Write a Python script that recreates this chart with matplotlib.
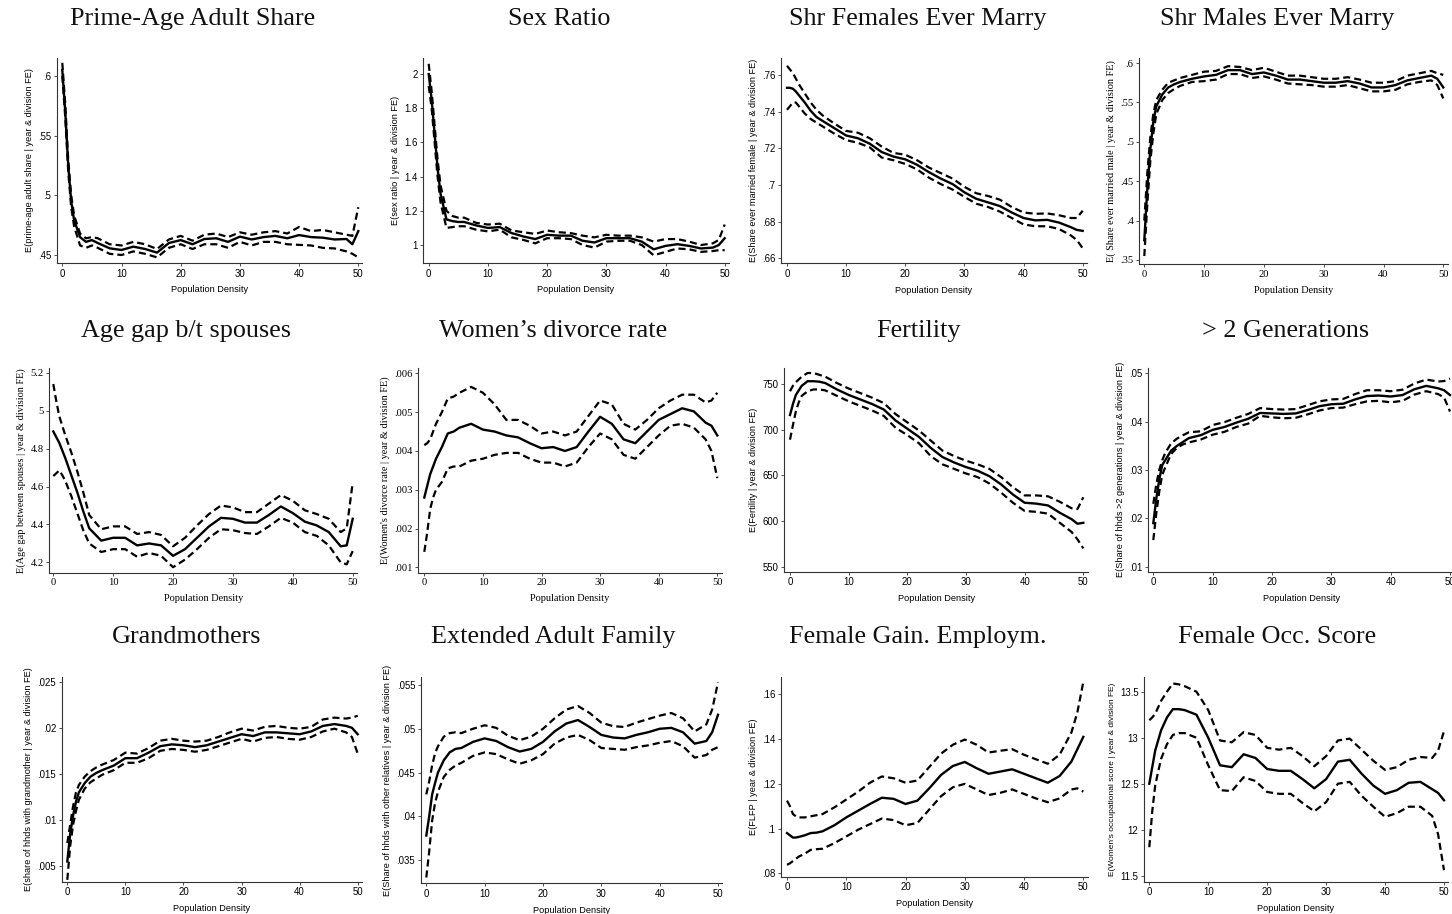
import matplotlib
matplotlib.use("Agg")
import matplotlib.pyplot as plt

W, H = 1452, 914

# ---------------- data ----------------
x = [0, 0.5, 1, 1.5, 2, 3, 4, 5, 6, 8, 10, 12, 14, 16, 18, 20, 22, 24, 26, 28,
     30, 32, 34, 36, 38, 40, 42, 44, 46, 48, 49, 50]
xticks = [0, 10, 20, 30, 40, 50]

titles = ["Prime-Age Adult Share", "Sex Ratio", "Shr Females Ever Marry", "Shr Males Ever Marry",
          "Age gap b/t spouses", "Women\u2019s divorce rate", "Fertility", "> 2 Generations",
          "Grandmothers", "Extended Adult Family", "Female Gain. Employm.", "Female Occ. Score"]

ylabels = ["E(prime-age adult share | year & division FE)",
           "E(sex ratio | year & division FE)",
           "E(Share ever married female | year & division FE)",
           "E( Share ever married male | year & division FE)",
           "E(Age gap between spouses | year & division FE)",
           "E(Women's divorce rate | year & division FE)",
           "E(Fertility | year & division FE)",
           "E(Share of hhds >2 generations | year & division FE)",
           "E(share of hhds with grandmother | year & division FE)",
           "E(Share of hhds with other relatives | year & division FE)",
           "E(FLFP | year & division FE)",
           "E(Women's occupational score | year & division FE)"]

xlabel = "Population Density"

yticks = [[.45, .5, .55, .6], [1, 1.2, 1.4, 1.6, 1.8, 2], [.66, .68, .70, .72, .74, .76],
          [.35, .4, .45, .5, .55, .6], [4.2, 4.4, 4.6, 4.8, 5, 5.2],
          [.001, .002, .003, .004, .005, .006], [550, 600, 650, 700, 750],
          [.01, .02, .03, .04, .05], [.005, .01, .015, .02, .025],
          [.035, .04, .045, .05, .055], [.08, .1, .12, .14, .16], [11.5, 12, 12.5, 13, 13.5]]
yticklabels = [[".45", ".5", ".55", ".6"], ["1", "1.2", "1.4", "1.6", "1.8", "2"],
               [".66", ".68", ".7", ".72", ".74", ".76"], [".35", ".4", ".45", ".5", ".55", ".6"],
               ["4.2", "4.4", "4.6", "4.8", "5", "5.2"],
               [".001", ".002", ".003", ".004", ".005", ".006"], ["550", "600", "650", "700", "750"],
               [".01", ".02", ".03", ".04", ".05"], [".005", ".01", ".015", ".02", ".025"],
               [".035", ".04", ".045", ".05", ".055"], [".08", ".1", ".12", ".14", ".16"],
               ["11.5", "12", "12.5", "13", "13.5"]]

p1_mean = [.605, .57, .525, .495, .479, .465, .461, .4625, .460, .4556, .4542, .457, .455, .452, .46, .4625,
           .459, .4634, .464, .461, .4654, .463, .465, .466, .464, .4667, .465, .4645, .463, .4634, .459, .470]
p1_hi = [.611, .576, .53, .50, .483, .468, .464, .465, .464, .459, .458, .461, .459, .455, .463, .466,
         .462, .467, .468, .465, .469, .467, .469, .47, .468, .4735, .47, .471, .469, .467, .466, .49]
p1_lo = [.600, .565, .52, .49, .474, .458, .456, .458, .456, .451, .450, .453, .451, .448, .456, .459,
         .455, .459, .459, .456, .461, .458, .461, .461, .459, .4585, .458, .456, .4555, .453, .451, .448]

p2_mean = [2.0, 1.85, 1.65, 1.45, 1.3, 1.15, 1.14, 1.135, 1.135, 1.115, 1.10, 1.105, 1.07, 1.05, 1.035, 1.06,
           1.055, 1.055, 1.025, 1.015, 1.04, 1.04, 1.04, 1.02, 0.975, 0.995, 1.005, 0.995, 0.98, 0.985, 1.0, 1.04]
p2_hi = [2.06, 1.9, 1.7, 1.5, 1.35, 1.2, 1.17, 1.16, 1.16, 1.13, 1.12, 1.125, 1.085, 1.075, 1.065, 1.085,
         1.075, 1.07, 1.055, 1.045, 1.06, 1.055, 1.055, 1.045, 1.02, 1.035, 1.035, 1.02, 1.0, 1.01, 1.03, 1.12]
p2_lo = [1.93, 1.8, 1.6, 1.4, 1.25, 1.1, 1.105, 1.11, 1.11, 1.09, 1.08, 1.09, 1.045, 1.03, 1.01, 1.04,
         1.04, 1.035, 1.0, 0.985, 1.02, 1.025, 1.025, 1.0, 0.94, 0.96, 0.98, 0.975, 0.96, 0.965, 0.97, 0.97]

p3_mean = [.753, .753, .7525, .751, .749, .745, .7405, .737, .735, .731, .727, .7255, .7225, .718, .7155, .714,
           .711, .707, .7035, .7005, .696, .6925, .6905, .6885, .685, .682, .6807, .681, .6795, .677, .6755, .675]
p3_hi = [.765, .763, .761, .758, .755, .750, .745, .741, .738, .7335, .7295, .7285, .7255, .721, .7175, .7165,
         .7135, .7095, .7065, .7035, .699, .6955, .694, .692, .688, .685, .6843, .6845, .6835, .682, .682, .686]
p3_lo = [.741, .743, .745, .745, .743, .739, .736, .734, .732, .728, .7245, .723, .7205, .715, .7135, .7115,
         .7085, .704, .7005, .6975, .6935, .6898, .688, .6855, .682, .6785, .6775, .6775, .676, .6725, .670, .6655]

p4_mean = [.375, .44, .49, .525, .545, .56, .569, .573, .576, .58, .583, .585, .591, .591, .586, .588,
           .584, .579, .579, .577, .575, .575, .577, .574, .569, .569, .572, .578, .581, .584, .58, .569]
p4_hi = [.40, .46, .505, .535, .553, .566, .575, .578, .581, .585, .589, .59, .596, .595, .591, .594,
         .589, .584, .584, .582, .58, .58, .582, .579, .575, .575, .577, .584, .587, .59, .587, .585]
p4_lo = [.355, .42, .475, .51, .535, .553, .562, .567, .571, .576, .577, .579, .586, .586, .581, .583,
         .579, .574, .573, .572, .57, .57, .572, .568, .564, .564, .566, .573, .576, .578, .572, .555]

p5_mean = [4.89, 4.86, 4.83, 4.79, 4.75, 4.66, 4.57, 4.47, 4.38, 4.315, 4.33, 4.33, 4.29, 4.30, 4.29, 4.235,
           4.27, 4.33, 4.39, 4.435, 4.43, 4.41, 4.41, 4.45, 4.495, 4.46, 4.415, 4.395, 4.36, 4.285, 4.29, 4.43]
p5_hi = [5.14, 5.05, 4.97, 4.92, 4.87, 4.78, 4.68, 4.57, 4.45, 4.375, 4.39, 4.39, 4.35, 4.36, 4.345, 4.285,
         4.33, 4.395, 4.455, 4.5, 4.49, 4.465, 4.465, 4.51, 4.555, 4.525, 4.475, 4.455, 4.43, 4.36, 4.38, 4.62]
p5_lo = [4.655, 4.67, 4.685, 4.66, 4.63, 4.55, 4.46, 4.37, 4.30, 4.255, 4.27, 4.27, 4.23, 4.25, 4.235, 4.175,
         4.215, 4.27, 4.33, 4.375, 4.37, 4.355, 4.35, 4.39, 4.435, 4.41, 4.36, 4.34, 4.29, 4.2, 4.19, 4.26]

p6_mean = [.0028, .0031, .0034, .0036, .0038, .0041, .00445, .0045, .0046, .0047, .00455, .0045, .0044, .00435,
           .0042, .00407, .0041, .0040, .0041, .0045, .00488, .0047, .0043, .0042, .0045, .0048, .00495, .0051,
           .00502, .00473, .00465, .0044]
p6_hi = [.00415, .0042, .0043, .0045, .0047, .0050, .00535, .0054, .0055, .00565, .0055, .0052, .0048, .0048,
         .00465, .00445, .0045, .0044, .0045, .0049, .0053, .0052, .0047, .00455, .0048, .0051, .0053, .00545,
         .00545, .00525, .0053, .0055]
p6_lo = [.0014, .0019, .0025, .0028, .003, .0032, .00355, .0036, .0036, .00375, .0038, .0039, .00395, .00395,
         .0038, .0037, .0037, .0036, .0037, .0041, .00445, .0043, .0039, .0038, .0041, .0044, .00465, .0047,
         .0046, .0043, .004, .0033]

p7_mean = [716, 728, 738, 743, 748, 753, 753, 752.5, 751, 744, 738, 733, 728, 722, 710, 701,
           692, 680, 670, 664, 659, 655, 649, 640, 629, 620, 619, 617, 609, 602, 597, 598]
p7_hi = [742, 748, 752, 755, 758, 762, 762, 760, 758, 751, 745, 740, 735, 729, 717, 708,
         699, 688, 677, 671, 666, 662, 657, 648, 637, 628, 628, 627, 621, 614, 613, 626]
p7_lo = [689, 705, 720, 730, 737, 742, 744, 744, 743, 737, 731, 726, 721, 715, 702, 694,
         685, 671, 662, 657, 652, 648, 641, 631, 620, 611, 610, 608, 598, 588, 580, 570]

p8_mean = [.019, .024, .028, .031, .032, .034, .035, .0358, .0366, .0372, .0383, .0389, .0398, .0406, .0418,
           .0417, .0416, .0417, .0424, .0432, .0436, .0437, .0446, .0453, .0454, .0452, .0455, .0467, .0474,
           .0469, .0465, .0455]
p8_hi = [.023, .027, .030, .032, .0335, .0355, .0365, .0372, .0378, .0380, .0393, .0399, .0408, .0416, .0428,
         .0426, .0425, .0426, .0434, .0442, .0446, .0447, .0457, .0465, .0465, .0463, .0466, .0479, .0487,
         .0483, .0484, .0489]
p8_lo = [.0155, .021, .0255, .029, .0305, .0333, .0346, .0353, .0357, .0363, .0373, .0379, .0389, .0396, .0412,
         .0409, .0407, .0408, .0415, .0423, .0428, .0429, .0436, .0442, .0443, .0440, .0443, .0456, .0463,
         .0457, .0450, .0421]

p9_mean = [.0055, .0085, .0105, .012, .013, .014, .0147, .0151, .0154, .0159, .0167, .0167, .0173, .0180, .0182,
           .0181, .0179, .0181, .0185, .0189, .0193, .0191, .0195, .0195, .0194, .0193, .0196, .0202, .0204,
           .0202, .0200, .0193]
p9_hi = [.0075, .0095, .0115, .013, .0138, .0147, .0153, .0157, .016, .0165, .0173, .0172, .0178, .0186, .0188,
         .0186, .0185, .0186, .0190, .0195, .0199, .0197, .0201, .0202, .0200, .0199, .0201, .0209, .0211,
         .0210, .0211, .0213]
p9_lo = [.0035, .0072, .0095, .011, .0122, .0134, .0141, .0145, .0149, .0154, .0162, .0162, .0167, .0175, .0177,
         .0176, .0174, .0176, .0180, .0184, .0188, .0185, .0189, .0190, .0188, .0187, .0190, .0196, .0199,
         .0195, .0190, .0172]

p10_mean = [.0378, .040, .0425, .0438, .0450, .0464, .0473, .0477, .0478, .0485, .0489, .0486, .0479, .0474,
            .0477, .0485, .0497, .0506, .0510, .0502, .0493, .0490, .0489, .0493, .0496, .0500, .0501, .0496,
            .0483, .0486, .0496, .0516]
p10_hi = [.0425, .044, .0458, .0472, .048, .0491, .0495, .0496, .0495, .050, .0504, .0501, .0492, .0487,
          .0491, .0500, .0512, .0522, .0526, .0518, .0507, .0503, .0502, .0507, .0511, .0515, .0518, .0512,
          .0497, .0505, .0522, .0553]
p10_lo = [.033, .036, .0395, .0415, .0428, .0445, .0453, .0458, .0461, .0469, .0473, .0471, .0465, .0460,
          .0464, .0471, .0483, .0490, .0493, .0487, .0478, .0477, .0476, .0479, .0481, .0484, .0486, .0480,
          .0467, .0470, .0476, .0479]

p11_mean = [.098, .097, .096, .096, .0963, .097, .098, .0982, .0988, .1015, .105, .108, .111, .1138, .1133,
            .111, .1125, .118, .124, .128, .1298, .127, .1245, .1255, .1265, .1245, .1225, .1205, .1235, .130,
            .1355, .141]
p11_hi = [.1125, .110, .1065, .1055, .105, .105, .1055, .106, .1065, .1095, .113, .1165, .1205, .1233, .1225,
          .1205, .1215, .1275, .1335, .1375, .1398, .1375, .134, .1348, .1355, .133, .131, .129, .133, .143,
          .152, .1655]
p11_lo = [.0838, .0845, .0855, .0865, .0875, .0888, .0905, .0908, .091, .0935, .0965, .0995, .102, .1045,
          .1038, .1015, .1025, .1085, .1145, .1185, .120, .1175, .115, .116, .1175, .1155, .1135, .1118, .1135,
          .1175, .118, .1165]

p12_mean = [12.5, 12.68, 12.86, 12.97, 13.08, 13.22, 13.31, 13.31, 13.30, 13.25, 13.0, 12.70, 12.68, 12.82,
            12.78, 12.66, 12.64, 12.64, 12.55, 12.45, 12.55, 12.74, 12.76, 12.61, 12.48, 12.39, 12.43, 12.51,
            12.52, 12.44, 12.4, 12.32]
p12_hi = [13.19, 13.22, 13.26, 13.33, 13.4, 13.5, 13.59, 13.58, 13.56, 13.5, 13.3, 12.97, 12.95, 13.06,
          13.03, 12.89, 12.87, 12.89, 12.8, 12.69, 12.8, 12.97, 12.99, 12.87, 12.75, 12.65, 12.68, 12.76,
          12.79, 12.78, 12.86, 13.07]
p12_lo = [11.81, 12.2, 12.48, 12.63, 12.77, 12.93, 13.03, 13.05, 13.05, 13.0, 12.7, 12.43, 12.42, 12.57,
          12.53, 12.41, 12.39, 12.39, 12.29, 12.2, 12.3, 12.5, 12.52, 12.37, 12.25, 12.14, 12.18, 12.25,
          12.25, 12.15, 11.95, 11.56]

means = [p1_mean, p2_mean, p3_mean, p4_mean, p5_mean, p6_mean, p7_mean, p8_mean, p9_mean, p10_mean, p11_mean, p12_mean]
his = [p1_hi, p2_hi, p3_hi, p4_hi, p5_hi, p6_hi, p7_hi, p8_hi, p9_hi, p10_hi, p11_hi, p12_hi]
los = [p1_lo, p2_lo, p3_lo, p4_lo, p5_lo, p6_lo, p7_lo, p8_lo, p9_lo, p10_lo, p11_lo, p12_lo]

# ---------------- layout (pixels) ----------------
# spine_x, x0_px, x50_px, right_px, top_px, bottom_px, ylim
geom = [
    (57, 62.3, 358.3, 362, 58, 263, (.4433, .615)),
    (423, 428.7, 724.7, 729, 58, 263, (.895, 2.094)),
    (781, 787, 1082.7, 1087, 58.3, 263.3, (.6573, .7691)),
    (1139.3, 1144.3, 1443.3, 1448, 58.3, 264.3, (.3445, .606)),
    (49.3, 53.3, 352.7, 357, 367.7, 572.7, (4.146, 5.226)),
    (418, 424.3, 717.3, 722, 368.3, 572.7, (.000863, .00613)),
    (784.3, 790, 1083.3, 1088, 367.7, 571.7, (544.5, 767.8)),
    (1148.3, 1153.3, 1450, 1455, 367.7, 571.7, (.00896, .05116)),
    (61.7, 67.3, 357.7, 362, 676.7, 881.7, (.0033, .02554)),
    (420.7, 426.3, 718, 722, 676.7, 883.3, (.03234, .05595)),
    (781, 787, 1083.3, 1088, 676.7, 876.7, (.0785, .1679)),
    (1144, 1149.3, 1444, 1448, 676.7, 881.7, (11.435, 13.663)),
]
title_pos = [(193, 25), (559, 25), (918, 25), (1277, 25),
             (186, 336.7), (553, 336.7), (918, 336.7), (1286, 336.7),
             (187, 643.3), (553, 643.3), (918, 643.3), (1277, 643.3)]
serif_panels = {3, 4, 5}

fig = plt.figure(figsize=(W / 100, H / 100), dpi=100)
fig.patch.set_facecolor("white")

for i in range(12):
    sx, x0, x50, rx, ty, by, yl = geom[i]
    ppu = (x50 - x0) / 50.0
    ax = fig.add_axes([sx / W, 1 - by / H, (rx - sx) / W, (by - ty) / H])
    ax.set_xlim((sx - x0) / ppu, 50 + (rx - x50) / ppu)
    ax.set_ylim(*yl)
    ax.plot(x, his[i], color="black", lw=1.6, linestyle=(0, (3.2, 1.8)))
    ax.plot(x, los[i], color="black", lw=1.6, linestyle=(0, (3.2, 1.8)))
    ax.plot(x, means[i], color="black", lw=1.7)
    for s in ["top", "right"]:
        ax.spines[s].set_visible(False)
    for s in ["left", "bottom"]:
        ax.spines[s].set_color("#333333")
        ax.spines[s].set_linewidth(0.8)
    if i in serif_panels:
        fam, fs, lfs = "Liberation Serif", 7.6, 7.4
    else:
        fam, fs, lfs = "Liberation Sans", 6.9, 6.6
    ax.set_xticks(xticks)
    ax.set_xticklabels([str(t) for t in xticks], fontfamily=fam, fontsize=fs)
    ax.set_yticks(yticks[i])
    ax.set_yticklabels(yticklabels[i], fontfamily=fam, fontsize=fs)
    ax.tick_params(direction="out", length=2.5, width=0.6, color="#333333", pad=1.5)
    ax.set_xlabel(xlabel, fontfamily=fam, fontsize=lfs, labelpad=5)
    ax.set_ylabel(ylabels[i], fontfamily=fam, fontsize=(6.0 if i == 11 else lfs), labelpad=3)
    cx, bl = title_pos[i]
    fig.text(cx / W, 1 - bl / H, titles[i], ha="center", va="baseline",
             fontfamily="Liberation Serif", fontsize=18.8, color="#111111")

fig.savefig("out.png", dpi=100, facecolor="white")
